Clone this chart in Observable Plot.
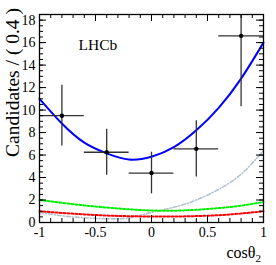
<!DOCTYPE html>
<html><head><meta charset="utf-8">
<script src="https://cdn.jsdelivr.net/npm/d3@7"></script>
<script src="https://cdn.jsdelivr.net/npm/@observablehq/plot@0.6"></script>
<style>body{margin:0;background:#fff}</style>
</head><body><div id="chart"></div>
<script>
// data points (bin centres, counts, errors)
const binX = [-0.8, -0.4, 0, 0.4, 0.8];
const binY = [9.5, 6.25, 4.4, 6.55, 16.6];
const binErr = [2.7, 2.05, 1.85, 2.5, 6.3];
const binHalfWidth = [0.2, 0.2, 0.2, 0.2, 0.2];
// curves
const curveX = [-1, -0.8, -0.6, -0.4, -0.2, 0, 0.2, 0.4, 0.6, 0.8, 1.0];
const totalY = [11.0, 8.8, 7.1, 6.15, 5.6, 5.85, 6.7, 8.2, 10.2, 12.8, 16.0];
const greenY = [2.0, 1.75, 1.52, 1.33, 1.17, 1.07, 1.05, 1.13, 1.28, 1.5, 1.82];
const redY = [1.0, 0.85, 0.72, 0.62, 0.56, 0.53, 0.53, 0.57, 0.65, 0.8, 1.0];
const grayY = [0.9, 0.6, 0.42, 0.33, 0.42, 0.9, 1.35, 2.0, 2.95, 4.3, 6.4];
const xTickLabels = [-1, -0.5, 0, 0.5, 1];
const yTickLabels = [0, 2, 4, 6, 8, 10, 12, 14, 16, 18];
const xMinor = d3.range(-10, 11).map(i => i / 10);
const yMinor = d3.range(0, 38).map(i => i / 2);

const points = binX.map((x, i) => ({x, y: binY[i], e: binErr[i], w: binHalfWidth[i]}));
const curve = (ys) => curveX.map((x, i) => ({x, y: ys[i]}));

const W = 276, H = 265, ml = 39, mr = 13, mt = 14, mb = 43;
const fh = H - mt - mb;
const font = "Liberation Serif, Times New Roman, serif";

const chart = Plot.plot({
  width: W, height: H,
  marginLeft: ml, marginRight: mr, marginTop: mt, marginBottom: mb,
  style: {fontFamily: font, background: "white", overflow: "visible"},
  x: {domain: [-1, 1]},
  y: {domain: [0, 18.5]},
  marks: [
    // curves
    Plot.line(curve(grayY), {x: "x", y: "y", curve: "natural", stroke: "#b4c2d0", strokeWidth: 1.6, strokeDasharray: "4,2,1,2"}),
    Plot.line(curve(redY), {x: "x", y: "y", curve: "natural", stroke: "#ff0000", strokeWidth: 2, strokeDasharray: "2,2"}),
    Plot.line(curve(greenY), {x: "x", y: "y", curve: "natural", stroke: "#00ee00", strokeWidth: 2, strokeDasharray: "2,2"}),
    Plot.line(curve(totalY), {x: "x", y: "y", curve: "natural", stroke: "#0000ff", strokeWidth: 2}),
    // error bars
    Plot.ruleX(points, {x: "x", y1: d => d.y - d.e, y2: d => d.y + d.e, stroke: "#333", strokeWidth: 1.3, clip: true}),
    Plot.ruleY(points, {y: "y", x1: d => d.x - d.w, x2: d => d.x + d.w, stroke: "#333", strokeWidth: 1.3, clip: true}),
    Plot.dot(points, {x: "x", y: "y", r: 2.2, fill: "black", stroke: "none"}),
    // ticks (inside the frame, all four sides)
    Plot.ruleX(xMinor, {x: d => d, insetTop: fh - 4, stroke: "black"}),
    Plot.ruleX(xMinor, {x: d => d, insetBottom: fh - 4, stroke: "black"}),
    Plot.ruleX(xTickLabels, {x: d => d, insetTop: fh - 7, stroke: "black"}),
    Plot.ruleX(xTickLabels, {x: d => d, insetBottom: fh - 7, stroke: "black"}),
    Plot.ruleY(yMinor, {y: d => d, insetRight: (W - ml - mr) - 4, stroke: "black"}),
    Plot.ruleY(yMinor, {y: d => d, insetLeft: (W - ml - mr) - 4, stroke: "black"}),
    Plot.ruleY(yTickLabels, {y: d => d, insetRight: (W - ml - mr) - 7, stroke: "black"}),
    Plot.ruleY(yTickLabels, {y: d => d, insetLeft: (W - ml - mr) - 7, stroke: "black"}),
    Plot.axisX({ticks: xTickLabels, tickSize: 0, tickPadding: 5, tickFormat: d => String(d), fontSize: 14, label: null, fill: "black"}),
    Plot.axisY({ticks: yTickLabels, tickSize: 0, tickPadding: 4, tickFormat: d => String(d), fontSize: 14, label: null, fill: "black"}),
    Plot.frame({stroke: "black", strokeWidth: 1.3}),
    Plot.text(["LHCb"], {frameAnchor: "top-left", dx: 39, dy: 24, text: d => d, fontSize: 15.5, textAnchor: "start", fill: "black"})
  ]
});

const svg = d3.select(chart);
const xl = svg.append("text")
  .attr("x", 261).attr("y", 258)
  .attr("text-anchor", "end")
  .attr("font-family", font).attr("font-size", 16).attr("fill", "black");
xl.append("tspan").text("cosθ");
xl.append("tspan").attr("font-size", 11).attr("dy", 4).text("2");

svg.append("text")
  .attr("transform", "translate(19,8) rotate(-90)")
  .attr("text-anchor", "end")
  .attr("font-family", font).attr("font-size", 19.5).attr("fill", "black")
  .text("Candidates / ( 0.4 )");

document.getElementById("chart").appendChild(chart);
</script></body></html>
